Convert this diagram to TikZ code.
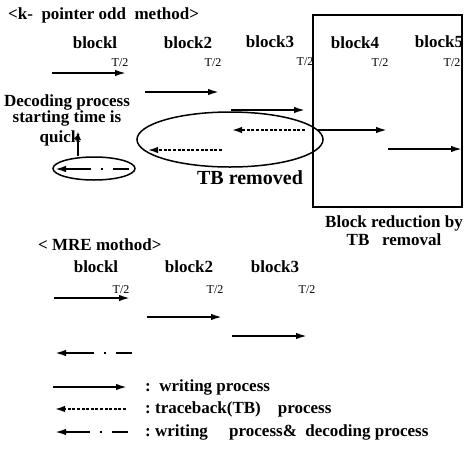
\documentclass[tikz,border=0pt]{standalone}
\usepackage{fontspec}
\setmainfont{Liberation Serif}
\usetikzlibrary{arrows.meta,shapes.geometric}
\begin{document}
\begin{tikzpicture}[x=1pt,y=-1pt,
  lbl/.style={font=\fontsize{17}{17}\selectfont\bfseries, inner sep=0pt},
  half/.style={font=\fontsize{12}{12}\selectfont, inner sep=0pt},
  wr/.style={line width=1.8pt, -{Latex[length=11pt,width=6.5pt]}},
  tb/.style={line width=1.6pt, dash pattern=on 3pt off 1.6pt, -{Latex[length=10pt,width=6.5pt]}},
  wd/.style={line width=1.8pt, dash pattern=on 16pt off 10pt on 2.5pt off 10pt on 40pt, -{Latex[length=11pt,width=6.5pt]}},
  ring/.style={draw, line width=1.5pt, ellipse},
]
\useasboundingbox (0,0) rectangle (466,459);
% ---------- top section ----------
\node[lbl, anchor=west] (title1) at (8,15) {<k-\ \ pointer odd\ \ method>};
\node[lbl] (b1) at (95,43) {blockl};
\node[lbl] (b2) at (188,43) {block2};
\node[lbl] (b3) at (270,42) {block3};
\node[lbl] (b4) at (355,43) {block4};
\node[lbl] (b5) at (439,42) {block5};
\node[half] (h1) at (120,63) {T/2};
\node[half] (h2) at (213,63) {T/2};
\node[half] (h3) at (305,62) {T/2};
\node[half] (h4) at (380,63) {T/2};
\node[half] (h5) at (452,63) {T/2};
% block reduction box
\node[draw, line width=1.5pt, minimum width=149pt, minimum height=192pt, inner sep=0pt] (box) at (387.5,111) {};
% writing arrows
\coordinate (a1s) at (52,73);  \coordinate (a1e) at (126,73);
\coordinate (a2s) at (145,92); \coordinate (a2e) at (219,92);
\coordinate (a3s) at (231,110); \coordinate (a3e) at (305,110);
\coordinate (a4s) at (318,130); \coordinate (a4e) at (387,130);
\coordinate (a5s) at (388,149); \coordinate (a5e) at (462,149);
\draw[wr] (a1s) -- (a1e);
\draw[wr] (a2s) -- (a2e);
\draw[wr] (a3s) -- (a3e);
\draw[wr] (a4s) -- (a4e);
\draw[wr] (a5s) -- (a5e);
% big ellipse with TB arrows
\node[ring, minimum width=186pt, minimum height=55pt, inner sep=0pt] (big) at (230,139.5) {};
\coordinate (t1s) at (305,130); \coordinate (t1e) at (232,130);
\coordinate (t2s) at (222,150); \coordinate (t2e) at (148,150);
\draw[tb] (t1s) -- (t1e);
\draw[tb] (t2s) -- (t2e);
\node[font=\fontsize{20}{20}\selectfont\bfseries, inner sep=0pt] (tbr) at (250,178) {TB removed};
\node[lbl, align=center] (red) at (394,231) {Block reduction by\\[1pt]TB\ \ \ removal};
% decoding start
\node[font=\fontsize{17}{13}\selectfont\bfseries, inner sep=0pt, align=center] (dec) at (67,110.5) {Decoding process\\starting time is};
\node[lbl] (quick) at (60,138) {quick};
\node[ring, minimum width=82pt, minimum height=23pt, inner sep=0pt] (small) at (94,168.5) {};
\coordinate (s1s) at (129,169); \coordinate (s1e) at (55,169);
\draw[wd] (s1s) -- (s1e);
\coordinate (up) at (78,131);
\draw[line width=1.6pt, -{Latex[length=9pt,width=6pt]}] (small.north -| up) -- (up);
% ---------- lower section ----------
\node[lbl, anchor=west] (title2) at (38,245) {< MRE mothod>};
\node[lbl] (c1) at (96,267) {blockl};
\node[lbl] (c2) at (189,267) {block2};
\node[lbl] (c3) at (275,267) {block3};
\node[half] (k1) at (121,290) {T/2};
\node[half] (k2) at (215,290) {T/2};
\node[half] (k3) at (307,290) {T/2};
\coordinate (m1s) at (54,298);  \coordinate (m1e) at (130,298);
\coordinate (m2s) at (147,317); \coordinate (m2e) at (222,317);
\coordinate (m3s) at (232,336); \coordinate (m3e) at (307,336);
\draw[wr] (m1s) -- (m1e);
\draw[wr] (m2s) -- (m2e);
\draw[wr] (m3s) -- (m3e);
\coordinate (m4s) at (132,353); \coordinate (m4e) at (55,353);
\draw[wd] (m4s) -- (m4e);
% legend
\coordinate (l1s) at (53,387);  \coordinate (l1e) at (127,387);
\coordinate (l2s) at (126,409); \coordinate (l2e) at (55,409);
\coordinate (l3s) at (128,432); \coordinate (l3e) at (55,432);
\draw[wr] (l1s) -- (l1e);
\draw[tb] (l2s) -- (l2e);
\draw[wd] (l3s) -- (l3e);
\node[lbl, anchor=west] (lg1) at (145,387) {:\ \ writing process};
\node[lbl, anchor=west] (lg2) at (145,409) {:\ traceback(TB)\ \ \ \ process};
\node[lbl, anchor=west] (lg3) at (145,432) {:\ writing\ \ \ \ \ process\&\ \ decoding process};
\end{tikzpicture}
\end{document}
